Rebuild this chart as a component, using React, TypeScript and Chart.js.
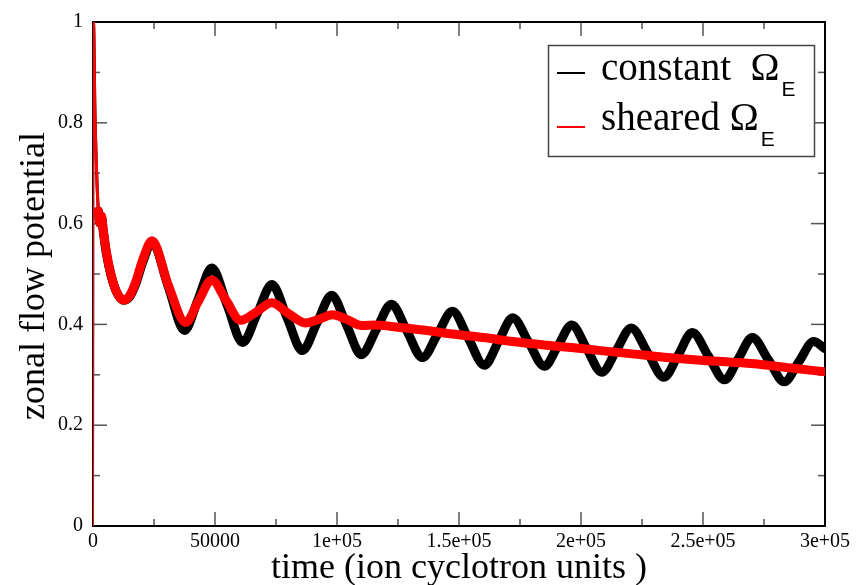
import React, { useEffect, useRef } from "react";
import { Chart, registerables } from "chart.js";

Chart.register(...registerables);

// ---- data ----
const blackTimes = [
  0, 200, 800, 1500, 2200, 2900, 3500, 4200, 5500, 7500, 9800, 12500, 15000, 17500, 20500,
  24200, 30850, 37500, 43100, 48700, 55000, 61300, 67300, 73300, 79550, 85800, 91800,
  97800, 103900, 110000, 116150, 122300, 128650, 135000, 141150, 147300, 153850, 160400,
  166200, 172000, 178500, 185000, 190600, 196200, 202350, 208500, 214550, 220600, 227300,
  234000, 239800, 245600, 252200, 258800, 264500, 270200, 276750, 283300, 289300, 295300,
  300000,
];
const blackValues = [
  0, 1.0, 0.82, 0.7, 0.625, 0.6, 0.612, 0.585, 0.54, 0.495, 0.463, 0.448, 0.455, 0.48, 0.525,
  0.563, 0.475, 0.388, 0.45, 0.512, 0.438, 0.364, 0.421, 0.479, 0.413, 0.348, 0.403,
  0.458, 0.399, 0.34, 0.39, 0.44, 0.387, 0.334, 0.38, 0.426, 0.372, 0.319,
  0.366, 0.413, 0.365, 0.317, 0.358, 0.399, 0.352, 0.305, 0.349, 0.393, 0.344,
  0.295, 0.339, 0.384, 0.337, 0.29, 0.332, 0.374, 0.33, 0.286, 0.326, 0.366,
  0.352,
];
const redTimes = [
  0, 200, 800, 1500, 2200, 2900, 3500, 4200, 5500, 7500, 9800, 12500, 15000, 17500, 20500,
  24200, 30850, 38000, 43100, 48700, 54500, 60500, 67000, 73300, 80000, 87000, 92500,
  98200, 104000, 110000, 116000, 122300, 135000, 147300, 160000, 172000, 185000, 196000,
  208000, 220000, 234000, 249000, 262000, 273000, 287000, 300000,
];
const redValues = [
  0, 1.0, 0.82, 0.7, 0.625, 0.6, 0.615, 0.588, 0.543, 0.497, 0.463, 0.448, 0.457, 0.484, 0.53,
  0.566, 0.478, 0.404, 0.445, 0.488, 0.448, 0.408, 0.425, 0.443, 0.422, 0.403, 0.41,
  0.419, 0.41, 0.398, 0.399, 0.396, 0.389, 0.381, 0.374, 0.366, 0.359, 0.354,
  0.348, 0.342, 0.335, 0.329, 0.325, 0.321, 0.313, 0.306,
];
const seriesNames = ["constant  \u03A9", "sheared \u03A9"];
const seriesSub = "E";
const xTickLabels = ["0", "50000", "1e+05", "1.5e+05", "2e+05", "2.5e+05", "3e+05"];
const yTickLabels = ["0", "0.2", "0.4", "0.6", "0.8", "1"];
const xTitle = "time (ion cyclotron units )";
const yTitle = "zonal flow potential";

const SERIF = "'Liberation Serif', 'Times New Roman', serif";
const SANS = "'Liberation Sans', Arial, sans-serif";

Chart.defaults.font.family = SERIF;
Chart.defaults.font.size = 20;
Chart.defaults.color = "#000";

const framePlugin = {
  id: "xmgraceFrame",
  beforeDatasetsDraw(chart: any) {
    const { ctx, chartArea } = chart;
    const { left, right, top, bottom } = chartArea;
    const xs = chart.scales.x;
    const ys = chart.scales.y;
    ctx.save();
    ctx.strokeStyle = "#555";
    ctx.lineWidth = 1.5;
    const line = (x1: number, y1: number, x2: number, y2: number) => {
      ctx.beginPath();
      ctx.moveTo(x1, y1);
      ctx.lineTo(x2, y2);
      ctx.stroke();
    };
    const xv = xs.ticks.map((t: any) => t.value);
    xv.forEach((v: number, i: number) => {
      const p = xs.getPixelForValue(v);
      line(p, bottom, p, bottom - 14);
      line(p, top, p, top + 14);
      if (i < xv.length - 1) {
        const m = xs.getPixelForValue((v + xv[i + 1]) / 2);
        line(m, bottom, m, bottom - 7);
        line(m, top, m, top + 7);
      }
    });
    const yv = ys.ticks.map((t: any) => t.value);
    yv.forEach((v: number, i: number) => {
      const p = ys.getPixelForValue(v);
      line(left, p, left + 14, p);
      line(right, p, right - 14, p);
      if (i < yv.length - 1) {
        const m = ys.getPixelForValue((v + yv[i + 1]) / 2);
        line(left, m, left + 7, m);
        line(right, m, right - 7, m);
      }
    });
    ctx.strokeStyle = "#000";
    ctx.lineWidth = 2;
    ctx.strokeRect(left, top, right - left, bottom - top);
    ctx.restore();
  },
  afterDraw(chart: any) {
    const { ctx, chartArea } = chart;
    const { left, right, top, bottom } = chartArea;
    ctx.save();
    ctx.fillStyle = "#000";
    ctx.font = `36px ${SERIF}`;
    ctx.textAlign = "center";
    ctx.textBaseline = "alphabetic";
    ctx.fillText(xTitle, (left + right) / 2, 578);
    ctx.save();
    ctx.translate(44, (top + bottom) / 2 + 2);
    ctx.rotate(-Math.PI / 2);
    ctx.fillText(yTitle, 0, 0);
    ctx.restore();

    // legend
    const bx = 548, by = 45, bw = 266, bh = 111;
    ctx.fillStyle = "#fff";
    ctx.fillRect(bx, by, bw, bh);
    ctx.strokeStyle = "#444";
    ctx.lineWidth = 1.5;
    ctx.strokeRect(bx + 0.5, by + 0.5, bw, bh);
    const lineYs = [73, 127];
    const baseYs = [80, 130];
    seriesNames.forEach((name, i) => {
      const ds = chart.data.datasets.find((d: any) => d.label === name);
      ctx.strokeStyle = ds.borderColor;
      ctx.lineWidth = 2;
      ctx.beginPath();
      ctx.moveTo(557, lineYs[i]);
      ctx.lineTo(585, lineYs[i]);
      ctx.stroke();
      ctx.fillStyle = "#000";
      ctx.textAlign = "left";
      ctx.font = `39px ${SERIF}`;
      ctx.fillText(name, 601, baseYs[i]);
      const w = ctx.measureText(name).width;
      ctx.font = `21px ${SANS}`;
      ctx.fillText(seriesSub, 601 + w + 2, baseYs[i] + 16);
    });
    ctx.restore();
  },
};

const segWidth = (c: any) => (c.p0.parsed.x < 150 ? 2 : c.p0.parsed.x < 2200 ? 3 : 9);

export default function App() {
  const ref = useRef<HTMLCanvasElement>(null);
  useEffect(() => {
    const black = blackTimes.map((t, i) => ({ x: t, y: blackValues[i] }));
    const red = redTimes.map((t, i) => ({ x: t, y: redValues[i] }));
    const tickFont = { family: SERIF, size: 20 };
    const chart = new Chart(ref.current as HTMLCanvasElement, {
      type: "line",
      data: {
        datasets: [
          {
            label: seriesNames[0],
            data: black,
            borderColor: "#000000",
            borderWidth: 9,
            pointRadius: 0,
            cubicInterpolationMode: "monotone",
            borderJoinStyle: "round",
            borderCapStyle: "round",
            order: 1,
            segment: { borderWidth: segWidth },
          },
          {
            label: seriesNames[1],
            data: red,
            borderColor: "#ff0000",
            borderWidth: 9,
            pointRadius: 0,
            cubicInterpolationMode: "monotone",
            borderJoinStyle: "round",
            borderCapStyle: "round",
            order: 0,
            segment: { borderWidth: segWidth },
          },
        ],
      } as any,
      options: {
        responsive: false,
        animation: false,
        font: tickFont,
        layout: { padding: { left: 0, right: 33, top: 15, bottom: 0 } },
        plugins: { legend: { display: false }, tooltip: { enabled: false } },
        scales: {
          x: {
            type: "linear",
            min: 0,
            max: 300000,
            grid: { display: false, drawTicks: false },
            border: { display: false },
            ticks: {
              stepSize: 50000,
              autoSkip: false,
              maxRotation: 0,
              minRotation: 0,
              padding: 4,
              color: "#000",
              font: tickFont,
              callback: (_v: any, i: number) => xTickLabels[i],
            },
            afterFit: (s: any) => {
              s.height = 59;
            },
          },
          y: {
            type: "linear",
            min: 0,
            max: 1,
            grid: { display: false, drawTicks: false },
            border: { display: false },
            ticks: {
              stepSize: 0.2,
              autoSkip: false,
              padding: 10,
              color: "#000",
              font: tickFont,
              callback: (_v: any, i: number) => yTickLabels[i],
            },
            afterFit: (s: any) => {
              s.width = 93;
            },
          },
        },
      } as any,
      plugins: [framePlugin],
    });
    return () => chart.destroy();
  }, []);
  return (
    <div style={{ position: "absolute", left: 0, top: 0, width: 858, height: 585, background: "#fff" }}>
      <canvas ref={ref} width={858} height={585} style={{ display: "block", width: 858, height: 585 }} />
    </div>
  );
}
